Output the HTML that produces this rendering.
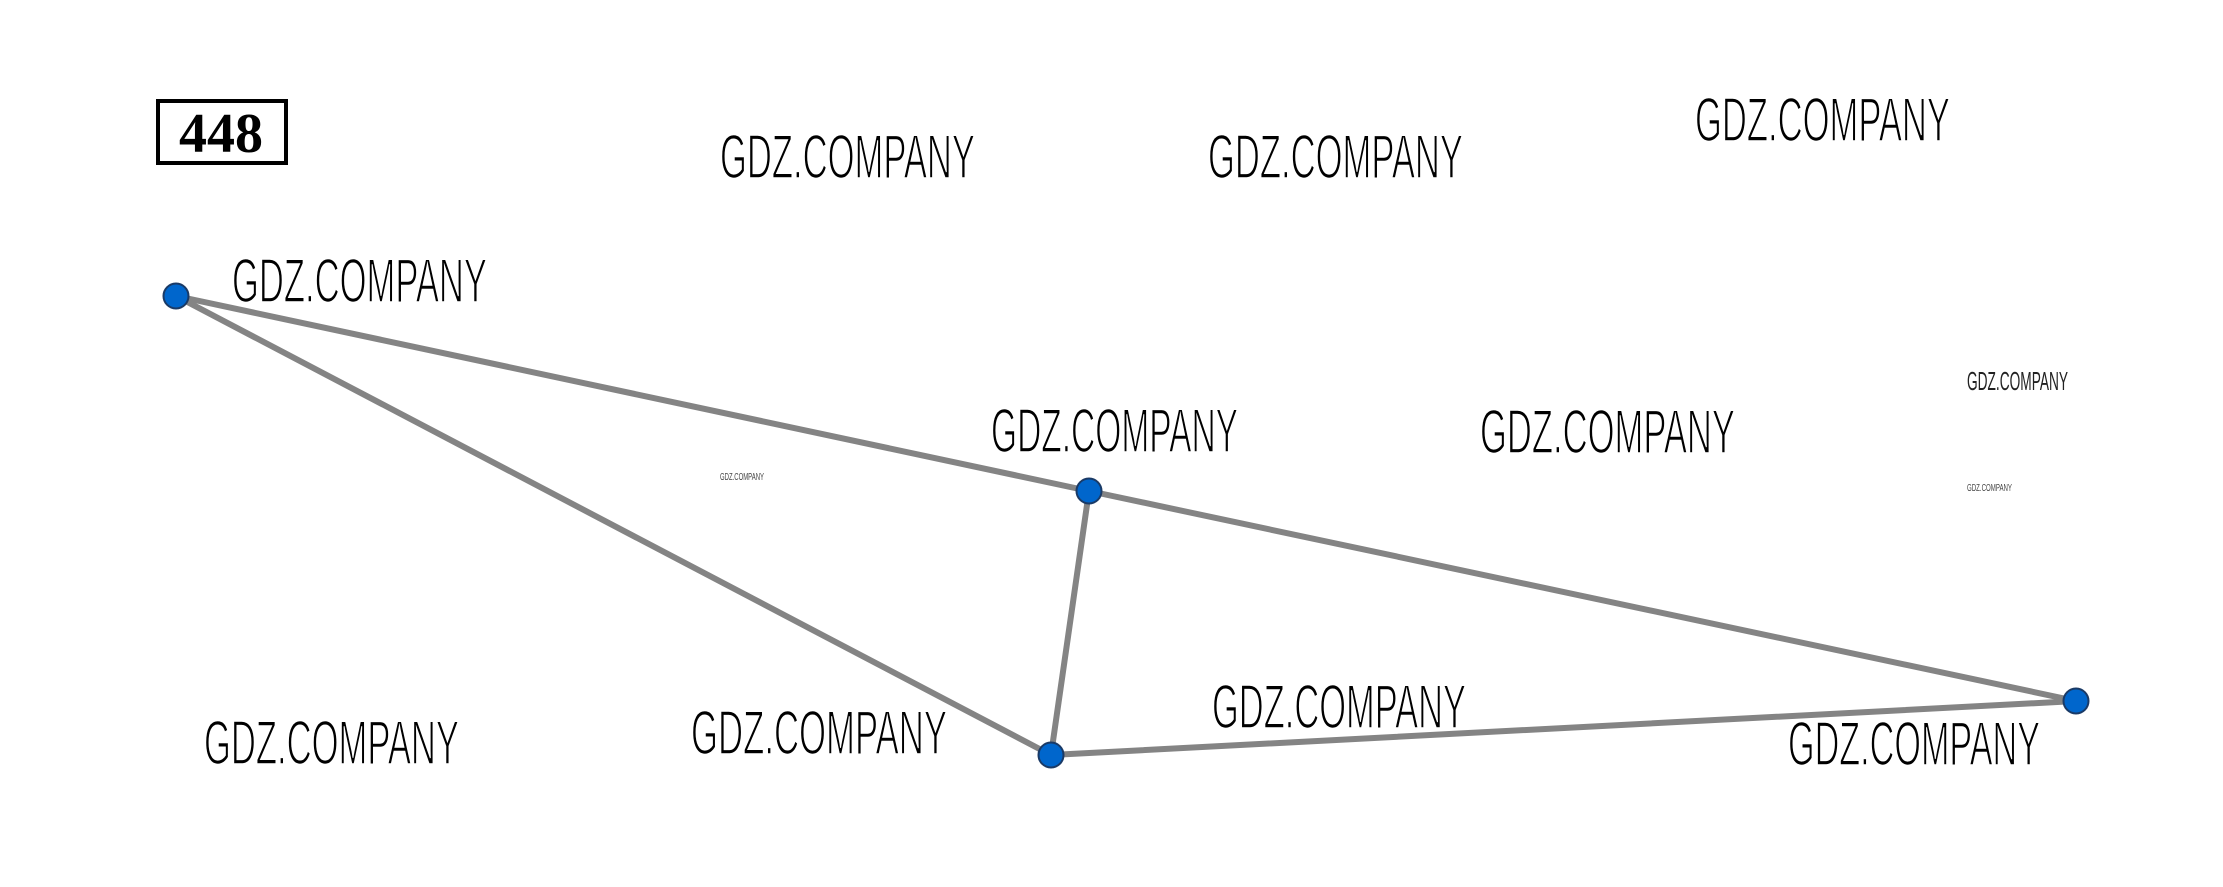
<!DOCTYPE html>
<html><head><meta charset="utf-8"><style>
html,body{margin:0;padding:0;background:#fff;}
svg{display:block;}
.l{font-family:"Liberation Sans",sans-serif;font-size:62px;fill:#000;stroke:#fff;stroke-width:1.6px;}
</style></head><body>
<svg width="2223" height="887" viewBox="0 0 2223 887" xmlns="http://www.w3.org/2000/svg">
<rect x="158" y="101" width="128" height="62" fill="none" stroke="#000" stroke-width="4"/>
<text x="221" y="152" text-anchor="middle" font-family="'Liberation Serif',serif" font-weight="bold" font-size="56">448</text>
<g stroke="#848484" stroke-width="6" stroke-linecap="round">
<line x1="176" y1="296" x2="1089" y2="491"/>
<line x1="176" y1="296" x2="1051" y2="755"/>
<line x1="1089" y1="491" x2="1051" y2="755"/>
<line x1="1089" y1="491" x2="2076" y2="701"/>
<line x1="1051" y1="755" x2="2076" y2="701"/>
</g>
<g fill="#0066cc" stroke="#1a3a66" stroke-width="2">
<circle cx="176" cy="296" r="12.5"/>
<circle cx="1089" cy="491" r="12.5"/>
<circle cx="1051" cy="755" r="12.5"/>
<circle cx="2076" cy="701" r="12.5"/>
</g>
<g class="l">
<text x="720" y="178" textLength="255" lengthAdjust="spacingAndGlyphs">GDZ.COMPANY</text>
<text x="232" y="302" textLength="255" lengthAdjust="spacingAndGlyphs">GDZ.COMPANY</text>
<text x="991" y="452" textLength="247" lengthAdjust="spacingAndGlyphs">GDZ.COMPANY</text>
<text x="204" y="764" textLength="255" lengthAdjust="spacingAndGlyphs">GDZ.COMPANY</text>
<text x="691" y="754" textLength="256" lengthAdjust="spacingAndGlyphs">GDZ.COMPANY</text>
<text x="1208" y="178" textLength="255" lengthAdjust="spacingAndGlyphs">GDZ.COMPANY</text>
<text x="1695" y="141" textLength="255" lengthAdjust="spacingAndGlyphs">GDZ.COMPANY</text>
<text x="1480" y="453" textLength="255" lengthAdjust="spacingAndGlyphs">GDZ.COMPANY</text>
<text x="1212" y="728" textLength="254" lengthAdjust="spacingAndGlyphs">GDZ.COMPANY</text>
<text x="1788" y="765" textLength="252" lengthAdjust="spacingAndGlyphs">GDZ.COMPANY</text>
</g>
<text x="1967" y="390" font-family="'Liberation Sans',sans-serif" font-size="26" textLength="101" lengthAdjust="spacingAndGlyphs" fill="#222">GDZ.COMPANY</text>
<text x="1967" y="491" font-family="'Liberation Sans',sans-serif" font-size="10" textLength="45" lengthAdjust="spacingAndGlyphs" fill="#444">GDZ.COMPANY</text>
<text x="720" y="480" font-family="'Liberation Sans',sans-serif" font-size="10" textLength="44" lengthAdjust="spacingAndGlyphs" fill="#444">GDZ.COMPANY</text>
</svg>
</body></html>
